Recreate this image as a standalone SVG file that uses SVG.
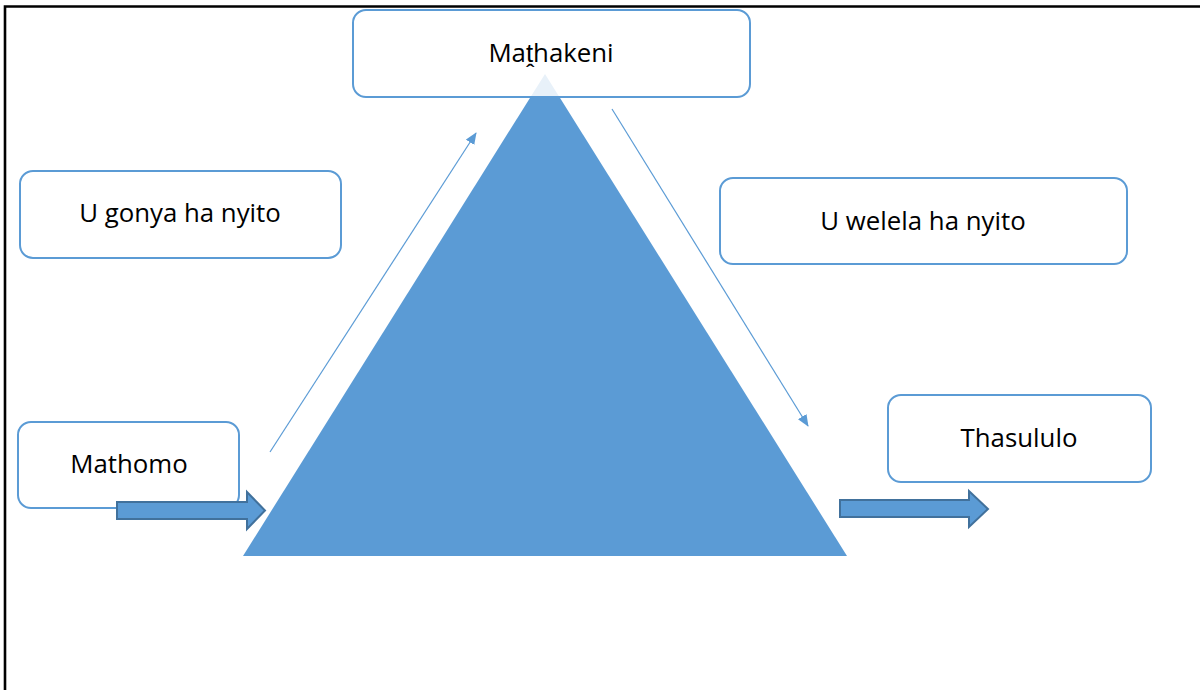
<svg xmlns="http://www.w3.org/2000/svg" width="1200" height="690" viewBox="0 0 1200 690">
<style>
.box{fill:#ffffff;stroke:#5b9bd5;stroke-width:2}
.lbl{font-family:"Open Sans","Liberation Sans",sans-serif;font-size:25.8px;fill:#000000;text-anchor:middle}
.thin{stroke:#5b9bd5;stroke-width:1.2;fill:none}
.block{fill:#5b9bd5;stroke:#41719c;stroke-width:2}
</style>
<defs>
<marker id="ah" viewBox="0 0 12 10" refX="11" refY="5" markerWidth="12" markerHeight="10" markerUnits="userSpaceOnUse" orient="auto">
<path d="M0,0 L12,5 L0,10 Z" fill="#5b9bd5"/>
</marker>
</defs>
<rect width="1200" height="690" fill="#ffffff"/>
<g id="frame">
<path d="M5,690 L5,6.5 L1200,6.5" fill="none" stroke="#000000" stroke-width="2.6"/>
</g>
<g id="triangle">
<polygon points="545,74 243,556 847,556" fill="#5b9bd5"/>
</g>
<g id="node-mathakeni">
<rect class="box" x="353" y="10" width="397" height="87" rx="13" fill-opacity="0.86"/>
<text class="lbl" x="551" y="62">Maṱhakeni</text>
</g>
<g id="node-ugonya">
<rect class="box" x="20" y="171" width="321" height="87" rx="13"/>
<text class="lbl" x="180" y="222">U gonya ha nyito</text>
</g>
<g id="node-uwelela">
<rect class="box" x="720" y="178" width="407" height="86" rx="13"/>
<text class="lbl" x="923" y="230">U welela ha nyito</text>
</g>
<g id="node-mathomo">
<rect class="box" x="18" y="422" width="221" height="86" rx="13"/>
<text class="lbl" x="129" y="473">Mathomo</text>
</g>
<g id="node-thasululo">
<rect class="box" x="888" y="395" width="263" height="87" rx="13"/>
<text class="lbl" x="1019" y="447">Thasululo</text>
</g>
<g id="connectors">
<line class="thin" x1="270" y1="452" x2="476" y2="133" marker-end="url(#ah)"/>
<line class="thin" x1="612" y1="109" x2="808" y2="426" marker-end="url(#ah)"/>
<polygon class="block" points="117,502 247,502 247,492 265,510.5 247,529 247,519 117,519"/>
<polygon class="block" points="840,500 969,500 969,491 988,509 969,527 969,517 840,517"/>
</g>
</svg>
